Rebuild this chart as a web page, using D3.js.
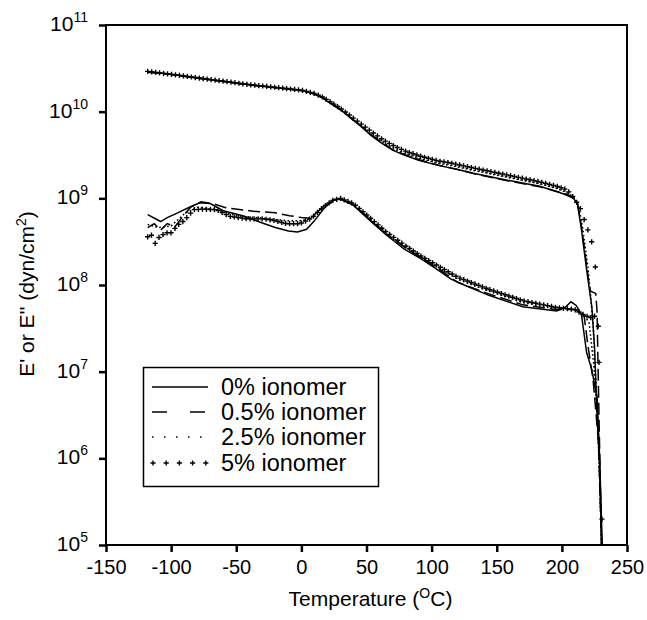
<!DOCTYPE html>
<html>
<head>
<meta charset="utf-8">
<script src="https://cdn.jsdelivr.net/npm/d3@7"></script>
<style>
  body { margin: 0; background: #fff; }
  text { font-family: "Liberation Sans", Arial, sans-serif; fill: #000; }
</style>
</head>
<body>
<svg id="chart" width="647" height="620"></svg>
<script>
// Tick values.
const tempTicks = [-150, -100, -50, 0, 50, 100, 150, 200, 250];
const decadeTicks = [1e5, 1e6, 1e7, 1e8, 1e9, 1e10, 1e11];

// Legend labels.
const seriesNames = ['0% ionomer', '0.5% ionomer', '2.5% ionomer', '5% ionomer'];

// Storage modulus E' [temperature, dyn/cm2].
const storage0 = [[-118,2.9e10],[-100,2.7e10],[-80,2.45e10],[-60,2.24e10],[-40,2.04e10],[-20,1.9e10],[0,1.76e10],[9,1.62e10],[16,1.45e10],[24,1.2e10],[32,1.0e10],[40,7.9e9],[46,6.7e9],[53,5.4e9],[61,4.4e9],[70,3.6e9],[79,3.15e9],[90,2.75e9],[105,2.4e9],[120,2.15e9],[132,1.95e9],[158,1.62e9],[183,1.38e9],[196,1.2e9],[203,1.1e9],[209,1.0e9],[212,8.5e8],[215,4.4e8],[219,1.5e8],[223,5.6e7],[225,2e7],[227,3.3e6],[229,8e5],[230.5,1e5]];
const storage05 = [[-118,2.85e10],[-100,2.68e10],[-80,2.44e10],[-60,2.23e10],[-40,2.03e10],[-20,1.89e10],[0,1.75e10],[9,1.62e10],[16,1.46e10],[24,1.22e10],[32,1.01e10],[40,8.0e9],[46,6.8e9],[53,5.5e9],[61,4.5e9],[70,3.65e9],[79,3.2e9],[90,2.8e9],[105,2.42e9],[120,2.15e9],[132,1.93e9],[158,1.6e9],[183,1.36e9],[196,1.2e9],[203,1.12e9],[209,1.02e9],[212,8.8e8],[215,4.8e8],[219,1.7e8],[221,1e8],[222,8.5e7],[226,8e7],[227,5e7],[228.5,3e6],[230.5,1e5]];
const storage25 = [[-118,2.88e10],[-100,2.69e10],[-80,2.45e10],[-60,2.24e10],[-40,2.04e10],[-20,1.9e10],[0,1.76e10],[9,1.63e10],[16,1.47e10],[24,1.23e10],[32,1.02e10],[40,8.1e9],[46,6.9e9],[53,5.6e9],[61,4.6e9],[70,3.75e9],[79,3.3e9],[90,2.9e9],[105,2.55e9],[120,2.3e9],[132,2.1e9],[158,1.75e9],[183,1.47e9],[196,1.3e9],[203,1.18e9],[209,1.05e9],[213,8e8],[216,4.5e8],[220,1.6e8],[224,3.5e7],[227,4e6],[229,6e5],[230.5,1e5]];
const storage5 = [[-118,2.92e10],[-100,2.7e10],[-80,2.46e10],[-60,2.25e10],[-40,2.05e10],[-20,1.91e10],[0,1.77e10],[9,1.64e10],[16,1.48e10],[24,1.25e10],[32,1.04e10],[40,8.4e9],[47,7.0e9],[55,5.7e9],[63,4.7e9],[72,3.95e9],[81,3.45e9],[92,3.05e9],[105,2.7e9],[114,2.57e9],[132,2.24e9],[158,1.86e9],[183,1.55e9],[196,1.38e9],[204,1.25e9],[209,1.02e9],[214,7.8e8],[218,5.2e8],[222.5,3.4e8],[225.6,1.75e8],[228,3e7],[229.5,3e6],[231,1e5]];

// Loss modulus E'' [temperature, dyn/cm2].
const loss0 = [[-118,6.5e8],[-108,5.4e8],[-103,6.0e8],[-95,6.8e8],[-86,7.9e8],[-78,8.9e8],[-70,8.7e8],[-60,7.2e8],[-45,6.3e8],[-30,5.2e8],[-20,4.6e8],[-10,4.2e8],[-3,4.1e8],[4,4.4e8],[10,5.5e8],[18,7.9e8],[25,9.5e8],[30,9.8e8],[40,8.3e8],[53,5.5e8],[65,3.8e8],[79,2.6e8],[92,2.0e8],[105,1.48e8],[115,1.17e8],[125,1.0e8],[144,7.6e7],[170,5.6e7],[196,5.0e7],[203,5.6e7],[207,6.4e7],[211,5.8e7],[215,4.6e7],[219,1.66e7],[223,1.05e7],[227,5.1e6],[229,1e6],[231,1e5]];
const loss05 = [[-118,4.6e8],[-113,5.1e8],[-108,4.3e8],[-103,5.1e8],[-97,4.7e8],[-91,6.2e8],[-85,7.9e8],[-77,9.1e8],[-68,8.7e8],[-58,7.8e8],[-37,7.1e8],[-20,6.8e8],[-9,6.3e8],[0,6.0e8],[7,5.9e8],[15,7.6e8],[25,9.6e8],[30,9.8e8],[40,8.5e8],[53,5.6e8],[65,3.9e8],[79,2.75e8],[92,2.05e8],[105,1.55e8],[120,1.07e8],[144,7.9e7],[170,5.9e7],[196,5.2e7],[210,5.2e7],[217,4.5e7],[220,2e7],[224,8e6],[228,1.6e6],[230.5,1e5]];
const loss25 = [[-118,5.0e8],[-110,4.6e8],[-100,4.8e8],[-90,6.6e8],[-80,7.9e8],[-65,7.4e8],[-50,6.3e8],[-30,5.9e8],[-10,5.5e8],[0,5.5e8],[8,6.0e8],[16,7.9e8],[25,9.6e8],[30,9.8e8],[40,8.5e8],[53,5.8e8],[65,4.0e8],[79,2.8e8],[92,2.1e8],[105,1.6e8],[120,1.17e8],[144,8.5e7],[170,6.3e7],[196,5.4e7],[210,5.2e7],[217,4.6e7],[221,3.6e7],[225,1e7],[228,2e6],[230.5,1e5]];
const loss5 = [[-118,3.6e8],[-115.6,4.0e8],[-113,2.9e8],[-109,3.6e8],[-104,4.0e8],[-100,4.0e8],[-95,4.9e8],[-91,5.4e8],[-87,6.2e8],[-83,7.4e8],[-76,7.5e8],[-65,7.4e8],[-55,6.2e8],[-42,5.8e8],[-29.5,5.8e8],[-22,5.6e8],[-11.5,5.1e8],[-1,5.1e8],[7.7,5.9e8],[16.6,7.9e8],[24.3,9.5e8],[30,1.0e9],[40,8.7e8],[53,5.9e8],[65,4.1e8],[79,2.9e8],[92,2.15e8],[105,1.66e8],[120,1.23e8],[144,8.9e7],[170,6.6e7],[196,5.5e7],[210,5.2e7],[217,4.5e7],[222,4.2e7],[227.5,4.5e7],[229,1.6e7],[230,2e6],[231,1e5]];

const svg = d3.select('#chart');

// Plot area.
const plotLeft = 106, plotRight = 627, plotTop = 25, plotBottom = 545;

const x = d3.scaleLinear().domain([-150, 250]).range([plotLeft, plotRight]);
const y = d3.scaleLog().domain([1e5, 1e11]).range([plotBottom, plotTop]);

const line = d3.line()
    .x(d => x(d[0]))
    .y(d => y(d[1]));

// Frame.
svg.append('rect')
    .attr('x', plotLeft).attr('y', plotTop)
    .attr('width', plotRight - plotLeft).attr('height', plotBottom - plotTop)
    .attr('fill', 'none').attr('stroke', '#000').attr('stroke-width', 2);

// X axis (plain hyphen for negatives).
svg.append('g')
    .attr('transform', `translate(0,${plotBottom})`)
    .call(d3.axisBottom(x).tickValues(tempTicks).tickSize(7).tickPadding(8).tickFormat(d => String(d)))
    .call(g => g.select('.domain').remove())
    .call(g => g.selectAll('line').attr('stroke-width', 2.5))
    .call(g => g.selectAll('text').attr('font-size', 20).attr('font-family', null));

// Y axis, labels drawn as 10 with a superscript exponent.
svg.append('g')
    .attr('transform', `translate(${plotLeft},0)`)
    .call(d3.axisLeft(y).tickValues(decadeTicks).tickSize(7).tickFormat(''))
    .call(g => g.select('.domain').remove())
    .call(g => g.selectAll('line').attr('stroke-width', 2.5));

const yLabels = svg.append('g').selectAll('text')
    .data(decadeTicks)
    .join('text')
        .attr('x', 88)
        .attr('y', d => y(d) + 6)
        .attr('text-anchor', 'end')
        .attr('font-size', 21);
yLabels.append('tspan').text('10');
yLabels.append('tspan')
    .attr('dy', -9)
    .attr('font-size', 14)
    .text(d => Math.round(Math.log10(d)));

// Axis titles.
const xTitle = svg.append('text')
    .attr('x', (plotLeft + plotRight) / 2 + 4)
    .attr('y', 606)
    .attr('text-anchor', 'middle')
    .attr('font-size', 21);
xTitle.append('tspan').text('Temperature (');
xTitle.append('tspan').attr('dy', -8).attr('font-size', 14).text('O');
xTitle.append('tspan').attr('dy', 8).text('C)');

const yTitle = svg.append('text')
    .attr('transform', 'translate(34,294) rotate(-90)')
    .attr('text-anchor', 'middle')
    .attr('font-size', 21);
yTitle.append('tspan').text("E' or E'' (dyn/cm");
yTitle.append('tspan').attr('dy', -8).attr('font-size', 14).text('2');
yTitle.append('tspan').attr('dy', 8).text(')');

// Line series.
const lineSeries = [
    { data: [storage0, loss0], dash: null },
    { data: [storage05, loss05], dash: '12,5' },
    { data: [storage25, loss25], dash: '1.6,2.4' }
];

lineSeries.forEach(s => {
    s.data.forEach(arr => {
        svg.append('path')
            .datum(arr)
            .attr('d', line)
            .attr('fill', 'none')
            .attr('stroke', '#000')
            .attr('stroke-width', 1.5)
            .attr('stroke-dasharray', s.dash);
    });
});

// 5% series drawn as plus markers placed along the curve.
const plus = 'M-2.6,0H2.6M0,-2.6V2.6';

function plusPoints(arr, step) {
    const tmp = svg.append('path').attr('d', line(arr)).attr('fill', 'none');
    const node = tmp.node();
    const len = node.getTotalLength();
    const pts = [];
    let lastX = -Infinity;
    for (let l = 0; l <= len; l += 0.5) {
        const p = node.getPointAtLength(l);
        if (p.x - lastX >= step) { pts.push([p.x, p.y]); lastX = p.x; }
    }
    tmp.remove();
    return pts;
}

[storage5, loss5].forEach(arr => {
    svg.append('g').selectAll('path')
        .data(plusPoints(arr, 3.7))
        .join('path')
            .attr('transform', d => `translate(${d[0]},${d[1]})`)
            .attr('d', plus)
            .attr('stroke', '#000')
            .attr('stroke-width', 1.4);
});

// Legend.
const legend = svg.append('g');
legend.append('rect')
    .attr('x', 143.5).attr('y', 367.5)
    .attr('width', 235).attr('height', 119)
    .attr('fill', '#fff').attr('stroke', '#000').attr('stroke-width', 1.5);

const rowY = [387, 412, 437, 463];
const legendDash = [null, '15,23', '1.5,10.5', null];

seriesNames.forEach((name, i) => {
    if (i < 3) {
        legend.append('line')
            .attr('x1', 152).attr('x2', 208)
            .attr('y1', rowY[i]).attr('y2', rowY[i])
            .attr('stroke', '#000').attr('stroke-width', 1.5)
            .attr('stroke-dasharray', legendDash[i]);
    } else {
        legend.selectAll('.lp')
            .data(d3.range(5))
            .join('path')
                .attr('class', 'lp')
                .attr('transform', k => `translate(${153 + k * 13.2},${rowY[i]})`)
                .attr('d', plus)
                .attr('stroke', '#000')
                .attr('stroke-width', 1.4);
    }
    legend.append('text')
        .attr('x', 221)
        .attr('y', rowY[i] + 8)
        .attr('font-size', 23.5)
        .text(name);
});
</script>
</body>
</html>
